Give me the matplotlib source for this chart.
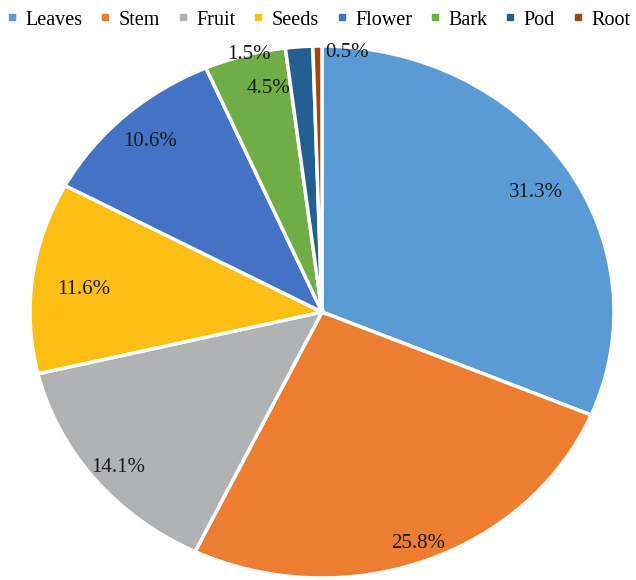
import numpy as np
import matplotlib.pyplot as plt
from matplotlib.lines import Line2D

parts = ['Leaves', 'Stem', 'Fruit', 'Seeds', 'Flower', 'Bark', 'Pod', 'Root']
shares = [31.3, 25.8, 14.1, 11.6, 10.6, 4.5, 1.5, 0.5]
pct_labels = ['31.3%', '25.8%', '14.1%', '11.6%', '10.6%', '4.5%', '1.5%', '0.5%']

colors = ['#5B9BD5', '#ED7D31', '#B1B2B4', '#FDBF13', '#4472C4', '#70AD47', '#255E91', '#9E480E']
# label placement: radial distance and angle shift (deg) from slice middle
label_dist = [0.86, 0.93, 0.91, 0.82, 0.87, 0.86, 1.0, 0.98]
label_shift = [-2, 0, 1, 1.5, 0, -3, 10, -6]

plt.rcParams['font.family'] = ['Liberation Serif', 'DejaVu Serif']

fig = plt.figure(figsize=(6.36, 5.8), dpi=100)
ax = fig.add_axes([30 / 636, 2 / 580, 584 / 636, 532 / 580])

wedges, _ = ax.pie(shares, colors=colors, startangle=90, counterclock=False,
                   wedgeprops=dict(edgecolor='white', linewidth=2.5))
ax.set_aspect('auto')
ax.set_xlim(-1, 1)
ax.set_ylim(-1, 1)
ax.axis('off')

for w, lab, d, s in zip(wedges, pct_labels, label_dist, label_shift):
    mid = np.deg2rad((w.theta1 + w.theta2) / 2 + s)
    ax.text(d * np.cos(mid), d * np.sin(mid), lab, ha='center', va='center',
            fontsize=15, color='#1a1a1a', clip_on=False)

handles = [Line2D([0], [0], marker='s', color='none', markerfacecolor=c,
                  markeredgecolor=c, markersize=5) for c in colors]
fig.legend(handles, parts, loc='center', bbox_to_anchor=(0.5, 1 - 20 / 580),
           ncol=8, frameon=False, fontsize=14.5, handlelength=0.6,
           handletextpad=0.35, columnspacing=0.85, borderaxespad=0)

plt.savefig('out.png', dpi=100)
